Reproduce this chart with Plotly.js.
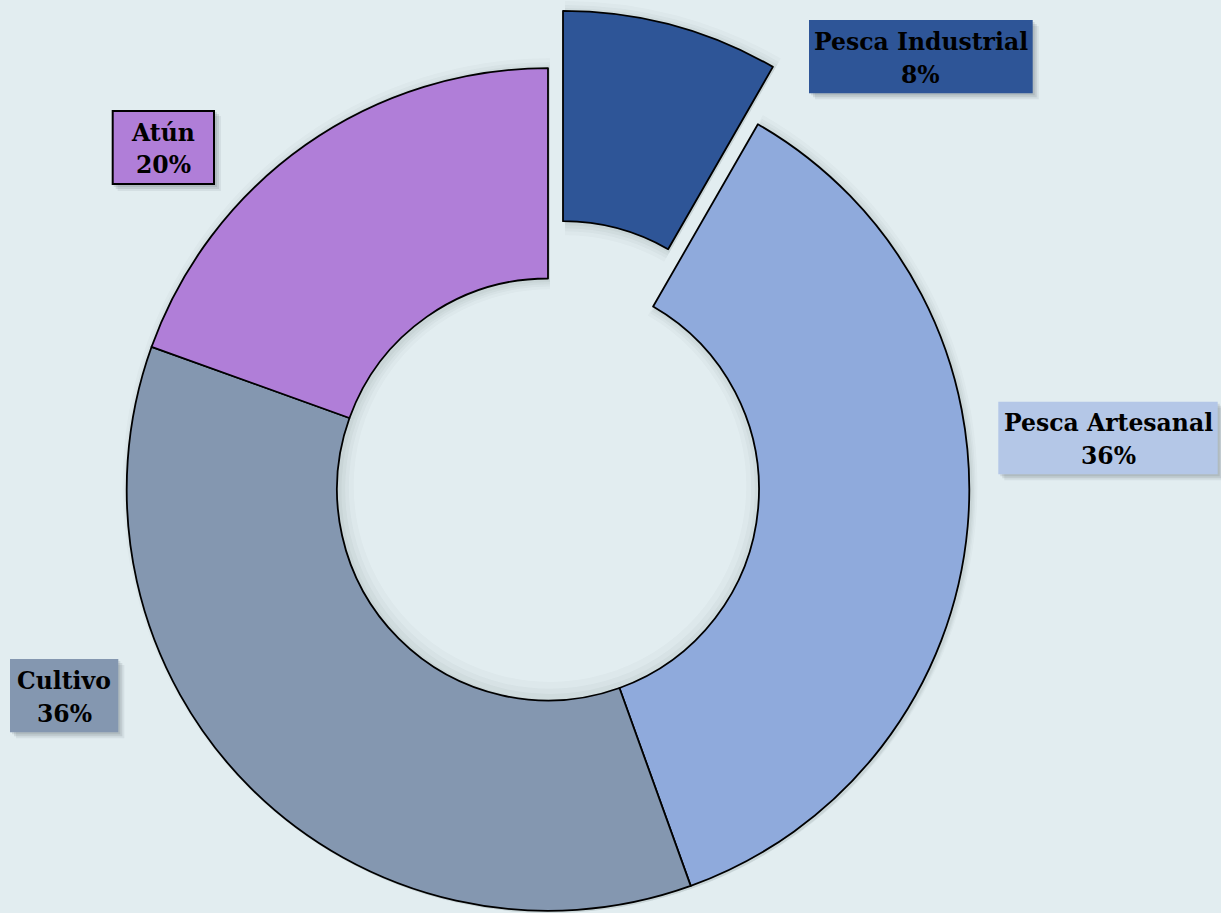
<!DOCTYPE html>
<html>
<head>
<meta charset="utf-8">
<script src="https://cdn.plot.ly/plotly-3.0.1.min.js"></script>
<style>html,body{margin:0;padding:0;background:#e2edf0;}#chart{width:1221px;height:913px;}</style>
</head>
<body>
<div id="chart"></div>
<script>
// ---- data ----
const labels = ['Pesca Industrial', 'Pesca Artesanal', 'Cultivo', 'Atún'];
const values = [8.3, 36.2, 36.0, 19.5];
const sliceColors = ['#2E5597', '#8FAADC', '#8497B0', '#B07ED8'];
const boxColors = ['#2E5597', '#B4C7E7', '#8497B0', '#B07ED8'];
const pulledIndex = 0;

// ---- layout geometry (pixels) ----
const W = 1221, H = 913;
const BG = '#e2edf0';
const center = [548, 489.5];
const R = 421.3, RIN = 211;
const pullOffset = [15, -57.3];
const boxes = [
  [809, 20, 1032.7, 93.3],
  [998.3, 401.7, 1217.7, 474.3],
  [10, 659, 118.3, 732.3],
  [111.7, 110, 215, 185]
];
const boxBorder = [0, 0, 0, 2];

const fx = px => px / W;
const fy = py => 1 - py / H;
function domainAt(cx, cy, r) {
  return { x: [fx(cx - r), fx(cx + r)], y: [fy(cy + r), fy(cy - r)] };
}
const T = 'rgba(0,0,0,0)';
const total = values.reduce((a, b) => a + b, 0);

const base = {
  type: 'pie', labels: labels, values: values, sort: false,
  direction: 'clockwise', rotation: 0, textinfo: 'none',
  hoverinfo: 'skip', showlegend: false
};

const traces = [];
// soft glow under the slices
const glowK = [12, 8, 5, 2];
const glowA = [0.025, 0.03, 0.035, 0.04];
const pc = [center[0] + pullOffset[0], center[1] + pullOffset[1]];
glowK.forEach((k, j) => {
  const col = 'rgba(40,50,60,' + glowA[j] + ')';
  traces.push(Object.assign({}, base, {
    domain: domainAt(center[0] + 2, center[1] + 2, R + k), hole: (RIN - k) / (R + k),
    marker: { colors: values.map((v, i) => i === pulledIndex ? T : col), line: { width: 0 } }
  }));
  traces.push(Object.assign({}, base, {
    domain: domainAt(pc[0] + 2, pc[1] + 2, R + k), hole: (RIN - k) / (R + k),
    marker: { colors: values.map((v, i) => i === pulledIndex ? col : T), line: { width: 0 } }
  }));
});
// main ring
traces.push(Object.assign({}, base, {
  domain: domainAt(center[0], center[1], R), hole: RIN / R,
  marker: {
    colors: sliceColors.map((c, i) => i === pulledIndex ? T : c),
    line: { color: values.map((v, i) => i === pulledIndex ? T : '#000'),
            width: values.map((v, i) => i === pulledIndex ? 0 : 1.8) }
  }
}));
// pulled slice
traces.push(Object.assign({}, base, {
  domain: domainAt(pc[0], pc[1], R), hole: RIN / R,
  marker: {
    colors: sliceColors.map((c, i) => i === pulledIndex ? c : T),
    line: { color: values.map((v, i) => i === pulledIndex ? '#000' : T),
            width: values.map((v, i) => i === pulledIndex ? 1.8 : 0) }
  }
}));

// label boxes, shadows and texts
const shapes = [];
const annotations = [];
const shOff = [[2, 2, 0.10], [4, 4, 0.10], [6, 6, 0.07]];
const font = { family: 'DejaVu Serif', size: 23.5, color: '#000' };
labels.forEach((lab, i) => {
  const b = boxes[i];
  shOff.forEach(s => {
    shapes.push({ type: 'rect', xref: 'paper', yref: 'paper',
      x0: fx(b[0] + s[0]), x1: fx(b[2] + s[0]), y0: fy(b[3] + s[1]), y1: fy(b[1] + s[1]),
      fillcolor: 'rgba(30,40,50,' + s[2] + ')', line: { width: 0 } });
  });
  shapes.push({ type: 'rect', xref: 'paper', yref: 'paper',
    x0: fx(b[0] + boxBorder[i] / 2), x1: fx(b[2] - boxBorder[i] / 2),
    y0: fy(b[3] - boxBorder[i] / 2), y1: fy(b[1] + boxBorder[i] / 2),
    fillcolor: boxColors[i], line: { width: boxBorder[i], color: '#000' } });
  const pct = Math.round(values[i] / total * 100) + '%';
  const cxp = fx((b[0] + b[2]) / 2);
  const h = b[3] - b[1];
  const off = (h - 73) / 2;
  annotations.push({ xref: 'paper', yref: 'paper', x: cxp, y: fy(b[1] + off + 21.5),
    xanchor: 'center', yanchor: 'middle', showarrow: false,
    text: '<b>' + lab + '</b>', font: font });
  annotations.push({ xref: 'paper', yref: 'paper', x: cxp, y: fy(b[1] + off + 54.5),
    xanchor: 'center', yanchor: 'middle', showarrow: false,
    text: '<b>' + pct + '</b>', font: font });
});

const layout = {
  width: W, height: H, margin: { l: 0, r: 0, t: 0, b: 0, pad: 0 },
  paper_bgcolor: BG, plot_bgcolor: BG, showlegend: false,
  shapes: shapes, annotations: annotations
};
Plotly.newPlot('chart', traces, layout, { staticPlot: true, displayModeBar: false });
</script>
</body>
</html>
